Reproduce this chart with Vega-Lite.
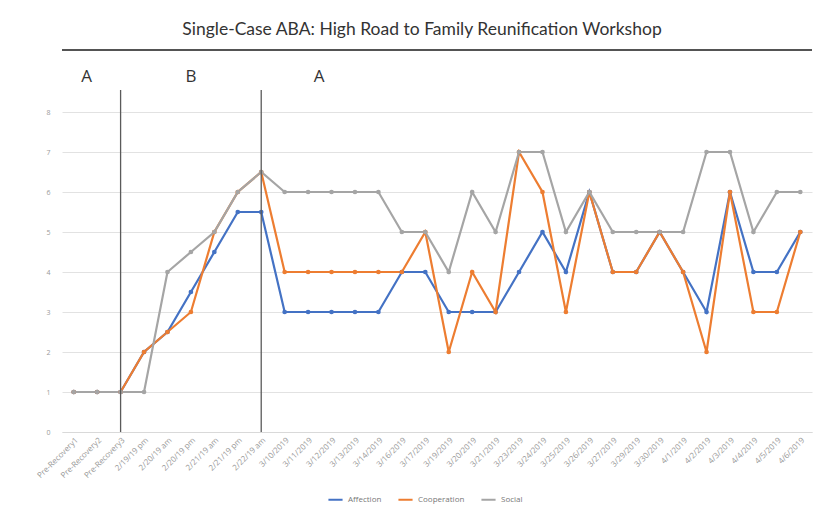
{
  "$schema": "https://vega.github.io/schema/vega-lite/v6.json",
  "width": 750,
  "height": 320,
  "autosize": "none",
  "padding": {"left": 62, "top": 112, "right": 13, "bottom": 84},
  "background": "white",
  "title": {
    "text": "Single-Case ABA: High Road to Family Reunification Workshop",
    "font": "Lato",
    "fontSize": 17.5,
    "fontWeight": "normal",
    "color": "#333333",
    "anchor": "middle",
    "offset": 11,
    "dx": -15
  },
  "config": {
    "view": {"stroke": null},
    "font": "Open Sans"
  },
  "resolve": {"axis": {"y": "independent"}},
  "data": {
    "values": [
      {"d": "Pre-Recovery1", "Affection": 1, "Cooperation": 1, "Social": 1},
      {"d": "Pre-Recovery2", "Affection": 1, "Cooperation": 1, "Social": 1},
      {"d": "Pre-Recovery3", "Affection": 1, "Cooperation": 1, "Social": 1},
      {"d": "2/19/19 pm", "Affection": 2, "Cooperation": 2, "Social": 1},
      {"d": "2/20/19 am", "Affection": 2.5, "Cooperation": 2.5, "Social": 4},
      {"d": "2/20/19 pm", "Affection": 3.5, "Cooperation": 3, "Social": 4.5},
      {"d": "2/21/19 am", "Affection": 4.5, "Cooperation": 5, "Social": 5},
      {"d": "2/21/19 pm", "Affection": 5.5, "Cooperation": 6, "Social": 6},
      {"d": "2/22/19 am", "Affection": 5.5, "Cooperation": 6.5, "Social": 6.5},
      {"d": "3/10/2019", "Affection": 3, "Cooperation": 4, "Social": 6},
      {"d": "3/11/2019", "Affection": 3, "Cooperation": 4, "Social": 6},
      {"d": "3/12/2019", "Affection": 3, "Cooperation": 4, "Social": 6},
      {"d": "3/13/2019", "Affection": 3, "Cooperation": 4, "Social": 6},
      {"d": "3/14/2019", "Affection": 3, "Cooperation": 4, "Social": 6},
      {"d": "3/16/2019", "Affection": 4, "Cooperation": 4, "Social": 5},
      {"d": "3/17/2019", "Affection": 4, "Cooperation": 5, "Social": 5},
      {"d": "3/19/2019", "Affection": 3, "Cooperation": 2, "Social": 4},
      {"d": "3/20/2019", "Affection": 3, "Cooperation": 4, "Social": 6},
      {"d": "3/21/2019", "Affection": 3, "Cooperation": 3, "Social": 5},
      {"d": "3/23/2019", "Affection": 4, "Cooperation": 7, "Social": 7},
      {"d": "3/24/2019", "Affection": 5, "Cooperation": 6, "Social": 7},
      {"d": "3/25/2019", "Affection": 4, "Cooperation": 3, "Social": 5},
      {"d": "3/26/2019", "Affection": 6, "Cooperation": 6, "Social": 6},
      {"d": "3/27/2019", "Affection": 4, "Cooperation": 4, "Social": 5},
      {"d": "3/29/2019", "Affection": 4, "Cooperation": 4, "Social": 5},
      {"d": "3/30/2019", "Affection": 5, "Cooperation": 5, "Social": 5},
      {"d": "4/1/2019", "Affection": 4, "Cooperation": 4, "Social": 5},
      {"d": "4/2/2019", "Affection": 3, "Cooperation": 2, "Social": 7},
      {"d": "4/3/2019", "Affection": 6, "Cooperation": 6, "Social": 7},
      {"d": "4/4/2019", "Affection": 4, "Cooperation": 3, "Social": 5},
      {"d": "4/5/2019", "Affection": 4, "Cooperation": 3, "Social": 6},
      {"d": "4/6/2019", "Affection": 5, "Cooperation": 5, "Social": 6}
    ]
  },
  "encoding": {
    "x": {
      "field": "d",
      "type": "nominal",
      "sort": null,
      "scale": {"type": "point", "padding": 0.5},
      "axis": {
        "title": null,
        "labelAngle": -45,
        "labelFontSize": 8,
        "labelColor": "#999999",
        "labelPadding": 4,
        "ticks": false,
        "domainColor": "#d9d9d9",
        "grid": false
      }
    }
  },
  "layer": [
    {
      "transform": [{"fold": ["Affection", "Cooperation", "Social"], "as": ["series", "value"]}],
      "mark": {"type": "line", "strokeWidth": 2.2, "point": {"filled": true, "size": 22}},
      "encoding": {
        "y": {
          "field": "value",
          "type": "quantitative",
          "scale": {"domain": [0, 8], "nice": false},
          "axis": {
            "title": null,
            "values": [0, 1, 2, 3, 4, 5, 6, 7, 8],
            "labelOverlap": false,
            "labelFontSize": 7,
            "labelColor": "#9a9a9a",
            "labelPadding": 12,
            "ticks": false,
            "domain": false,
            "gridColor": "#e2e2e2"
          }
        },
        "color": {
          "field": "series",
          "type": "nominal",
          "scale": {"domain": ["Affection", "Cooperation", "Social"], "range": ["#4472C4", "#ED7D31", "#A5A5A5"]},
          "legend": {
            "title": null,
            "orient": "none",
            "direction": "horizontal",
            "legendX": 265,
            "legendY": 379,
            "symbolType": "stroke",
            "symbolStrokeWidth": 2,
            "symbolSize": 200,
            "labelFontSize": 8,
            "labelColor": "#777777",
            "columnPadding": 12
          }
        }
      }
    },
    {
      "data": {"values": [{"d": "Pre-Recovery3"}, {"d": "2/22/19 am"}]},
      "mark": {"type": "rule", "color": "#5a5a5a", "strokeWidth": 1.3},
      "encoding": {
        "y": {"datum": 0, "axis": null},
        "y2": {"datum": 8.55}
      }
    },
    {
      "data": {"values": [{"d": "Pre-Recovery1", "phase": "A"}]},
      "mark": {"type": "text", "fontSize": 17, "color": "#333333", "dx": 13, "font": "Open Sans"},
      "encoding": {"text": {"field": "phase"}, "y": {"datum": 8.875, "axis": null}}
    },
    {
      "data": {"values": [{"d": "2/20/19 pm", "phase": "B"}]},
      "mark": {"type": "text", "fontSize": 17, "color": "#333333", "font": "Open Sans"},
      "encoding": {"text": {"field": "phase"}, "y": {"datum": 8.875, "axis": null}}
    },
    {
      "data": {"values": [{"d": "3/11/2019", "phase": "A"}]},
      "mark": {"type": "text", "fontSize": 17, "color": "#333333", "dx": 11, "font": "Open Sans"},
      "encoding": {"text": {"field": "phase"}, "y": {"datum": 8.875, "axis": null}}
    },
    {
      "mark": {"type": "rule", "color": "#555555", "strokeWidth": 1.5},
      "encoding": {"y": {"datum": 9.55, "axis": null}, "x": null}
    }
  ]
}
